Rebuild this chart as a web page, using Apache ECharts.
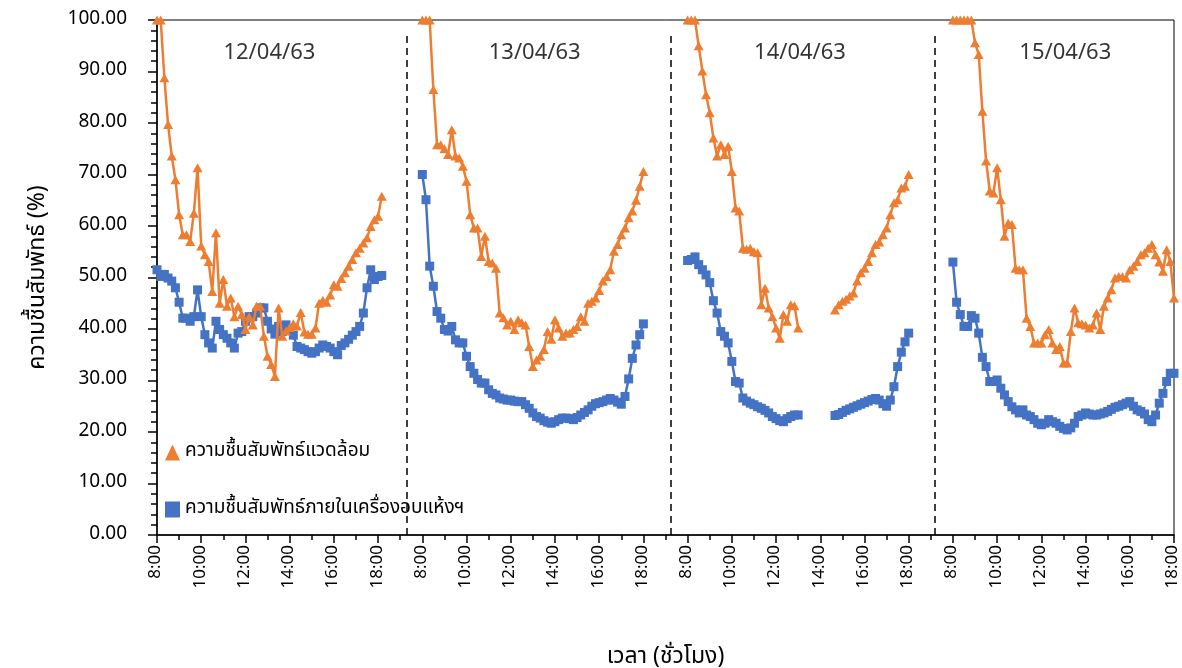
<!DOCTYPE html>
<html>
<head>
<meta charset="utf-8">
<script src="https://cdn.jsdelivr.net/npm/echarts@6/dist/echarts.min.js"></script>
<style>
  html, body { margin: 0; padding: 0; background: #ffffff; }
  #chart { width: 1182px; height: 668px; }
</style>
</head>
<body>
<div id="chart"></div>
<script>
// Relative humidity, one reading every 10 minutes from 8:00, four drying days.
const dayLabels = ['12/04/63', '13/04/63', '14/04/63', '15/04/63'];
const hourLabels = ['8:00', '10:00', '12:00', '14:00', '16:00', '18:00'];
const seriesNames = ['ความชื้นสัมพัทธ์แวดล้อม', 'ความชื้นสัมพัทธ์ภายในเครื่องอบแห้งฯ'];

// ambient air (%RH)
const ambientDay1 = [100, 100, 88.8, 79.7, 73.6, 69.0, 62.2, 58.3, 58.3, 57.0, 62.5, 71.3, 56.1, 54.4, 53.1, 47.3, 58.7, 45.0, 49.6, 44.4, 46.0, 42.4, 44.4, 42.8, 39.9, 42.4, 40.8, 44.4, 44.4, 38.6, 34.7, 33.1, 30.8, 44.1, 38.6, 39.6, 40.3, 41.0, 40.6, 43.2, 39.4, 39.0, 39.0, 40.2, 45.0, 45.6, 45.2, 46.6, 48.6, 48.3, 49.8, 50.9, 52.2, 53.5, 54.8, 55.7, 56.7, 57.7, 59.9, 61.2, 61.9, 65.8];
const ambientDay2 = [100, 100, 100, 86.5, 75.8, 75.8, 75.0, 73.9, 78.7, 73.6, 73.2, 71.6, 68.7, 62.2, 59.6, 59.6, 54.1, 58.0, 53.1, 52.8, 51.8, 43.1, 42.2, 40.8, 41.5, 39.9, 41.8, 41.2, 40.8, 36.6, 32.7, 34.0, 34.7, 36.0, 39.5, 38.0, 41.8, 40.2, 38.6, 39.2, 39.2, 39.9, 40.5, 42.4, 41.5, 45.0, 45.4, 46.0, 47.5, 49.3, 50.2, 51.5, 55.1, 56.4, 58.3, 59.6, 61.6, 62.9, 65.0, 67.7, 70.6];
const ambientDay3 = [100, 100, 100, 95.0, 90.1, 85.5, 82.0, 77.1, 73.6, 75.8, 73.9, 75.5, 70.6, 63.5, 62.9, 55.7, 55.5, 55.7, 55.0, 54.8, 44.7, 47.9, 44.1, 42.4, 40.2, 38.2, 42.8, 41.5, 44.7, 44.5, 40.2, null, null, null, null, null, null, null, null, null, 43.7, 44.7, 45.4, 45.8, 46.4, 47.0, 49.3, 50.9, 51.8, 53.1, 54.8, 56.4, 56.9, 58.3, 59.6, 62.2, 64.5, 65.1, 67.4, 67.7, 70.0];
const ambientDay4 = [100, 100, 100, 100, 100, 100, 95.6, 93.3, 82.3, 72.6, 66.8, 66.4, 71.3, 65.1, 58.0, 60.6, 60.3, 51.8, 51.5, 51.5, 42.1, 40.5, 37.3, 37.3, 37.3, 38.9, 39.9, 37.3, 36.0, 36.6, 33.4, 33.4, 39.5, 44.1, 41.2, 41.0, 40.8, 40.2, 40.8, 43.1, 39.9, 44.4, 46.0, 47.6, 49.9, 50.2, 50.2, 49.9, 51.5, 52.2, 53.1, 54.4, 54.8, 55.7, 56.4, 54.4, 53.0, 51.2, 55.4, 53.1, 46.0];

// inside the dryer (%RH)
const dryerDay1 = [51.5, 50.2, 50.6, 49.9, 49.3, 48.0, 45.2, 42.1, 42.1, 41.5, 42.4, 47.6, 42.4, 38.9, 37.3, 36.3, 41.5, 39.9, 38.9, 38.2, 37.3, 36.3, 39.2, 39.5, 41.5, 42.4, 42.4, 43.1, 44.1, 44.1, 41.5, 40.0, 39.0, 40.5, 39.5, 40.8, 39.8, 38.8, 36.6, 36.3, 36.0, 35.6, 35.3, 35.6, 36.3, 36.9, 36.6, 36.3, 35.6, 35.0, 36.8, 37.3, 38.0, 38.8, 39.5, 40.5, 43.1, 48.0, 51.5, 49.6, 50.2, 50.4];
const dryerDay2 = [70.0, 65.1, 52.2, 48.3, 43.4, 42.1, 39.9, 39.6, 40.5, 37.9, 37.3, 37.3, 34.7, 32.7, 31.4, 30.2, 29.5, 29.5, 28.2, 27.5, 27.2, 26.6, 26.4, 26.2, 26.2, 26.0, 25.9, 25.9, 25.3, 24.6, 23.7, 23.0, 22.7, 22.2, 21.9, 21.7, 22.0, 22.4, 22.7, 22.7, 22.6, 22.4, 22.8, 23.3, 23.8, 24.3, 25.0, 25.5, 25.7, 25.9, 26.2, 26.5, 26.2, 25.8, 25.4, 26.9, 30.3, 34.3, 36.9, 38.9, 41.0];
const dryerDay3 = [53.3, 53.5, 54.0, 52.5, 51.5, 50.5, 49.0, 45.5, 43.1, 39.5, 38.6, 37.3, 33.7, 29.8, 29.5, 26.6, 26.0, 25.6, 25.3, 24.9, 24.6, 24.2, 23.7, 23.0, 22.6, 22.2, 22.0, 22.6, 23.0, 23.3, 23.3, null, null, null, null, null, null, null, null, null, 23.2, 23.4, 23.8, 24.2, 24.5, 24.8, 25.1, 25.4, 25.7, 26.0, 26.3, 26.5, 26.2, 25.5, 25.0, 26.2, 28.8, 32.7, 35.5, 37.5, 39.2];
const dryerDay4 = [53.0, 45.2, 42.8, 40.5, 40.5, 42.6, 42.1, 39.2, 34.5, 32.7, 29.8, 29.8, 30.1, 28.5, 27.2, 25.9, 24.9, 24.3, 23.7, 24.3, 23.3, 23.0, 22.4, 21.7, 21.4, 21.7, 22.4, 22.0, 21.7, 21.1, 20.7, 20.4, 20.8, 21.7, 23.0, 23.3, 23.7, 23.5, 23.3, 23.3, 23.5, 23.7, 24.0, 24.4, 24.8, 25.0, 25.3, 25.6, 25.9, 25.0, 24.3, 24.0, 23.5, 22.4, 22.0, 23.3, 25.6, 27.5, 29.8, 31.4, 31.4];

// time between the end of one day's run and the start of the next (in 10-min slots)
const dayDividerSlots = [67.8, 139.3, 211.1];

const SLOTS_PER_DAY = 72;       // 8:00 .. 19:50 on the axis, one slot = 10 minutes
const AXIS_MAX = 3 * SLOTS_PER_DAY + 60;
const FONT = '"Noto Sans Thai", "Noto Sans", "DejaVu Sans", sans-serif';
const ORANGE = '#ED7D31';
const BLUE = '#4472C4';

function toPoints(days) {
  const pts = [];
  days.forEach((vals, d) => {
    vals.forEach((v, t) => pts.push([d * SLOTS_PER_DAY + t, v]));
    pts.push([d * SLOTS_PER_DAY + vals.length, null]);
  });
  return pts;
}

function slotLabel(v) {
  const r = Math.round(v) % SLOTS_PER_DAY;
  if (r % 12 === 0 && r <= 60) return hourLabels[r / 12];
  return '';
}

const chart = echarts.init(document.getElementById('chart'), null, { renderer: 'canvas' });

chart.setOption({
  animation: false,
  backgroundColor: '#ffffff',
  textStyle: { fontFamily: FONT, color: '#000' },
  grid: {
    left: 157, right: 8, top: 20, bottom: 133,
    outerBoundsMode: 'none',
    containLabel: false,
    show: true, borderColor: '#000', borderWidth: 1, backgroundColor: 'transparent'
  },
  legend: {
    orient: 'vertical',
    left: 160, top: 438,
    itemGap: 38,
    itemWidth: 15, itemHeight: 16,
    textStyle: { fontFamily: FONT, fontSize: 19, color: '#000' },
    data: [
      { name: seriesNames[0], icon: 'triangle', itemStyle: { color: ORANGE } },
      { name: seriesNames[1], icon: 'rect', itemStyle: { color: BLUE } }
    ]
  },
  xAxis: {
    type: 'value',
    min: 0, max: AXIS_MAX, interval: 12,
    name: 'เวลา (ชั่วโมง)',
    nameLocation: 'middle',
    nameGap: 112,
    nameTextStyle: { fontFamily: FONT, fontSize: 23, color: '#000' },
    axisLine: { lineStyle: { color: '#000', width: 1.5 } },
    axisTick: { show: true, length: 8, lineStyle: { color: '#000', width: 1.5 } },
    minorTick: { show: true, splitNumber: 2, length: 5, lineStyle: { color: '#000', width: 1.5 } },
    splitLine: { show: false },
    axisLabel: {
      rotate: 90, margin: 10,
      fontFamily: FONT, fontSize: 17, color: '#000',
      formatter: slotLabel
    }
  },
  yAxis: {
    type: 'value',
    min: 0, max: 100, interval: 10,
    name: 'ความชื้นสัมพัทธ์ (%)',
    nameLocation: 'middle',
    nameGap: 106,
    nameTextStyle: { fontFamily: FONT, fontSize: 23, color: '#000' },
    axisLine: { show: true, lineStyle: { color: '#000', width: 1.5 } },
    axisTick: { show: true, length: 9, lineStyle: { color: '#000', width: 1.5 } },
    minorTick: { show: true, splitNumber: 5, length: 6, lineStyle: { color: '#000', width: 1.5 } },
    splitLine: { show: false },
    axisLabel: {
      margin: 30,
      fontFamily: FONT, fontSize: 19, color: '#000',
      formatter: v => v.toFixed(2)
    }
  },
  series: [
    {
      name: seriesNames[0],
      type: 'line',
      data: toPoints([ambientDay1, ambientDay2, ambientDay3, ambientDay4]),
      connectNulls: false,
      symbol: 'triangle',
      symbolSize: [10, 9],
      showAllSymbol: true,
      lineStyle: { color: ORANGE, width: 2.5 },
      itemStyle: { color: ORANGE },
      z: 3
    },
    {
      name: seriesNames[1],
      type: 'line',
      data: toPoints([dryerDay1, dryerDay2, dryerDay3, dryerDay4]),
      connectNulls: false,
      symbol: 'rect',
      symbolSize: 9,
      showAllSymbol: true,
      lineStyle: { color: BLUE, width: 2.5 },
      itemStyle: { color: BLUE },
      z: 2
    },
    {
      name: 'dates',
      type: 'scatter',
      symbolSize: 0,
      silent: true,
      data: dayLabels.map((d, i) => [i * SLOTS_PER_DAY + 30.5, 93.2, d]),
      label: {
        show: true,
        position: 'inside',
        formatter: p => p.value[2],
        fontFamily: FONT, fontSize: 22, color: '#000'
      },
      markLine: {
        silent: true,
        symbol: 'none',
        label: { show: false },
        lineStyle: { color: '#000', type: [7, 5], width: 1.5 },
        data: dayDividerSlots.map(s => [{ coord: [s, 0] }, { coord: [s, 97] }])
      },
      z: 1
    }
  ]
});
</script>
</body>
</html>
